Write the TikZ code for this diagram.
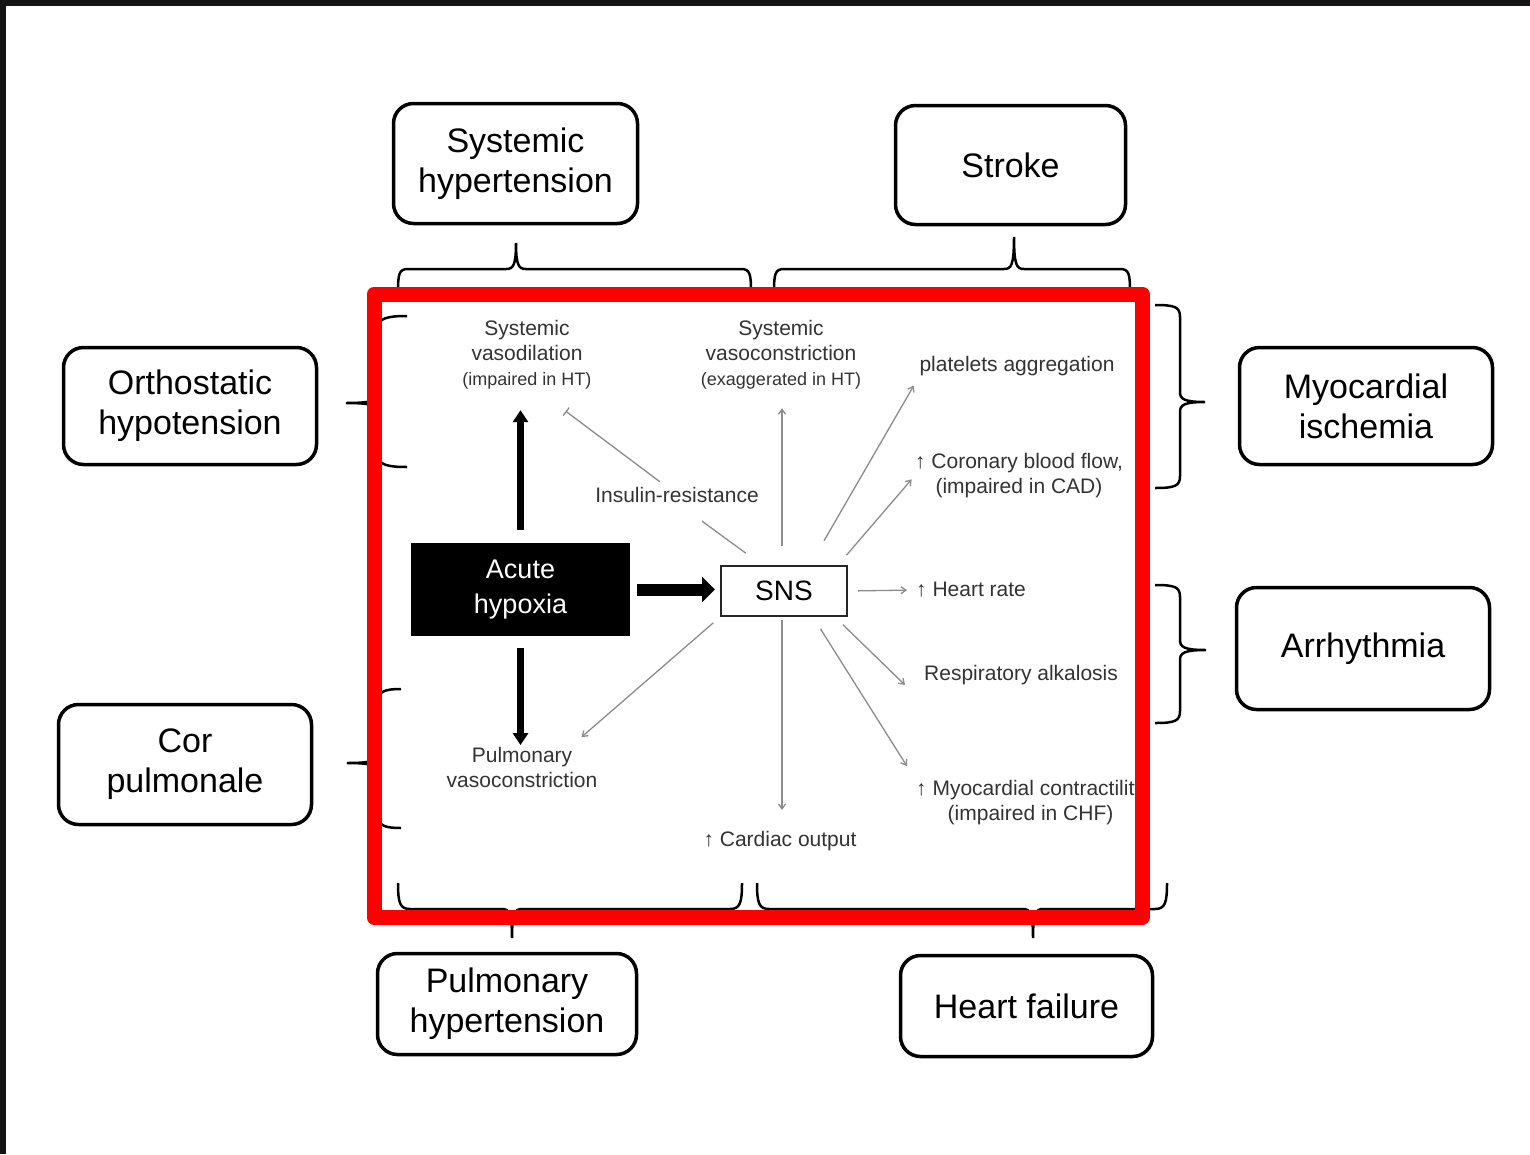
\documentclass[tikz,border=0pt]{standalone}
\usepackage{fontspec}
\setmainfont{Liberation Sans}
\usetikzlibrary{arrows.meta}

\definecolor{slideframe}{HTML}{141414}
\definecolor{notegray}{HTML}{333333}
\definecolor{linkgray}{HTML}{8C8C8C}
\definecolor{focusred}{HTML}{FF0000}

\begin{document}
\begin{tikzpicture}[
    x=1pt, y=-1pt,
    outcome/.style={rectangle, draw, line width=3.5pt, rounded corners=20pt, minimum width=250pt, minimum height=118pt, align=center, font=\fontsize{34}{40}\selectfont},
    note/.style={inner sep=0pt, align=center, text=notegray, font=\fontsize{21}{25}\selectfont},
    hypoxbox/.style={rectangle, fill=black, text=white, minimum width=219pt, minimum height=93pt, align=center, font=\fontsize{27}{35}\selectfont},
    snsbox/.style={rectangle, draw=black!85, line width=2pt, minimum width=126pt, minimum height=50pt, font=\fontsize{28}{30}\selectfont},
    fatarrow/.style={-{Triangle[length=12pt, width=15pt]}, line width=7pt},
    widearrow/.style={-{Triangle[length=13pt, width=25pt]}, line width=12pt},
    ray/.style={draw=linkgray, line width=1.3pt, -{Straight Barb[length=5pt, width=7pt]}},
    plainray/.style={draw=linkgray, line width=1.3pt},
    blockray/.style={draw=linkgray, line width=1.3pt, -{Bar[width=10pt]}},
    bracket/.style={draw=black, line width=2.5pt},
]

% ============ Slide background ============
\fill[slideframe] (0,0) rectangle (1530,1154);
\fill[white] (6,6) rectangle (1530,1154);
\useasboundingbox (0,0) rectangle (1530,1154);

% ============ Outcome boxes ============
\node[outcome, minimum width=244pt, minimum height=120pt] (syshyp) at (515.5,163.5) {Systemic\\hypertension};
\node[outcome, minimum width=230pt, minimum height=119pt] (stroke) at (1010.5,165) {Stroke};
\node[outcome, minimum width=253pt, minimum height=117pt] (ortho) at (190,406) {Orthostatic\\hypotension};
\node[outcome, minimum width=253pt, minimum height=117pt] (myoisch) at (1366,406) {Myocardial\\ischemia};
\node[outcome, minimum width=253pt, minimum height=122pt] (arrhy) at (1363,648.5) {Arrhythmia};
\node[outcome, minimum width=253pt, minimum height=120pt] (corpul) at (185,764.5) {Cor\\pulmonale};
\node[outcome, minimum width=259pt, minimum height=101pt] (pulmhyp) at (507,1004) {Pulmonary\\hypertension};
\node[outcome, minimum width=252pt, minimum height=101pt] (heartfail) at (1026.5,1006) {Heart failure};

% ============ Mechanism panel ============
\node[hypoxbox] (hypoxia) at (520.5,589.5) {Acute\\hypoxia};
\node[snsbox] (sns) at (784,591) {SNS};

\node[note] (vasodil) at (527,354.5) {Systemic\\vasodilation\\{\fontsize{18}{22}\selectfont (impaired in HT)}};
\node[note] (vasocon) at (781,354.5) {Systemic\\vasoconstriction\\{\fontsize{18}{22}\selectfont (exaggerated in HT)}};
\node[note] (platelets) at (1017,366) {platelets aggregation};
\node[note] (coronary) at (1019,475.5) {↑ Coronary blood flow,\\(impaired in CAD)};
\node[note] (insulin) at (677,495) {Insulin-resistance};
\node[note, anchor=west] (heartrate) at (916,590) {↑ Heart rate};
\node[note, anchor=west] (resp) at (924,675) {Respiratory alkalosis};
\node[note, anchor=north west] (contract) at (916,780.5) {↑ Myocardial contractility\\(impaired in CHF)};
\node[note] (pulmvaso) at (522,767.5) {Pulmonary\\vasoconstriction};
\node[note] (cardiac) at (780,841) {↑ Cardiac output};

% hypoxia arrows
\draw[fatarrow, shorten <=13pt, shorten >=21pt] (hypoxia.north) -- (hypoxia.north |- vasodil.south);
\draw[fatarrow, shorten <=12pt, shorten >=2pt] (hypoxia.south) -- (hypoxia.south |- pulmvaso.north);
\draw[widearrow, shorten <=7pt, shorten >=5pt] (hypoxia.east) -- (hypoxia.east -| sns.west);

% SNS rays
\draw[ray, shorten <=19pt, shorten >=19pt] ([xshift=-2pt]sns.north) -- ([xshift=-2pt]sns.north |- vasocon.south);
\draw[ray, shorten <=28pt, shorten >=11pt] ([xshift=26pt]sns.north) -- (platelets.south west);
\draw[ray, shorten <=13pt, shorten >=5pt] ([xshift=-10pt]sns.north east) -- (coronary.west);
\draw[ray, shorten <=10pt, shorten >=9pt] (sns.east) -- (heartrate.west);
\draw[ray, shorten <=11pt] ([xshift=-13pt]sns.south east) -- ([xshift=-19pt, yshift=-10pt]resp.west);
\draw[ray, shorten <=14pt, shorten >=17pt] ([xshift=29pt]sns.south) -- (contract.north west);
\draw[ray, shorten <=3pt, shorten >=21pt] ([xshift=-2pt]sns.south) -- ([xshift=-2pt]sns.south |- cardiac.north);
\draw[ray, shorten <=9pt] (sns.south west) -- ([xshift=-16pt, yshift=10pt]pulmvaso.north east);
\draw[plainray, shorten <=31pt, shorten >=20pt] (insulin.south) -- ([xshift=-22pt]sns.north);
\draw[blockray, shorten <=9pt] ([xshift=-10pt]insulin.north) -- ([xshift=-26pt, yshift=-22pt]vasodil.south east);

% ============ Braces ============
% top
\draw[bracket] (398,292) .. controls (398,274) and (399,269) .. (408,269) -- (506,269) .. controls (513,269) and (516,266) .. (516,243) .. controls (516,266) and (519,269) .. (526,269) -- (741,269) .. controls (750,269) and (751,274) .. (751,292);
\draw[bracket] (774,292) .. controls (774,274) and (775,269) .. (784,269) -- (1004,269) .. controls (1011,269) and (1014,266) .. (1014,237) .. controls (1014,266) and (1017,269) .. (1024,269) -- (1120,269) .. controls (1129,269) and (1130,274) .. (1130,292);
% left
\draw[bracket] (407,316) .. controls (388,316) and (378,318) .. (378,328) -- (378,393) .. controls (378,400) and (374,403) .. (346,403) .. controls (374,403) and (378,406) .. (378,413) -- (378,455) .. controls (378,465) and (388,467) .. (407,467);
\draw[bracket] (401,689) .. controls (386,689) and (378,691) .. (378,701) -- (378,753) .. controls (378,760) and (374,763) .. (347,763) .. controls (374,763) and (378,766) .. (378,773) -- (378,816) .. controls (378,826) and (386,828) .. (401,828);
% right
\draw[bracket] (1155,305) .. controls (1175,305) and (1180,307) .. (1180,317) -- (1180,392) .. controls (1180,399) and (1184,402) .. (1205,402) .. controls (1184,402) and (1180,405) .. (1180,412) -- (1180,476) .. controls (1180,486) and (1175,488) .. (1155,488);
\draw[bracket] (1155,585) .. controls (1175,585) and (1180,587) .. (1180,597) -- (1180,640) .. controls (1180,647) and (1184,650) .. (1206,650) .. controls (1184,650) and (1180,653) .. (1180,660) -- (1180,711) .. controls (1180,721) and (1175,723) .. (1155,723);
% bottom
\draw[bracket] (398,883) .. controls (398,903) and (400,909) .. (410,909) -- (502,909) .. controls (509,909) and (512,913) .. (512,938) .. controls (512,913) and (515,909) .. (522,909) -- (730,909) .. controls (740,909) and (742,903) .. (742,883);
\draw[bracket] (757,883) .. controls (757,903) and (759,909) .. (769,909) -- (1023,909) .. controls (1030,909) and (1033,913) .. (1033,938) .. controls (1033,913) and (1036,909) .. (1043,909) -- (1155,909) .. controls (1165,909) and (1167,903) .. (1167,883);

% ============ Highlight frame ============
\draw[focusred, line width=15pt, line join=round] (374,294) rectangle (1142,917.5);

\end{tikzpicture}
\end{document}
